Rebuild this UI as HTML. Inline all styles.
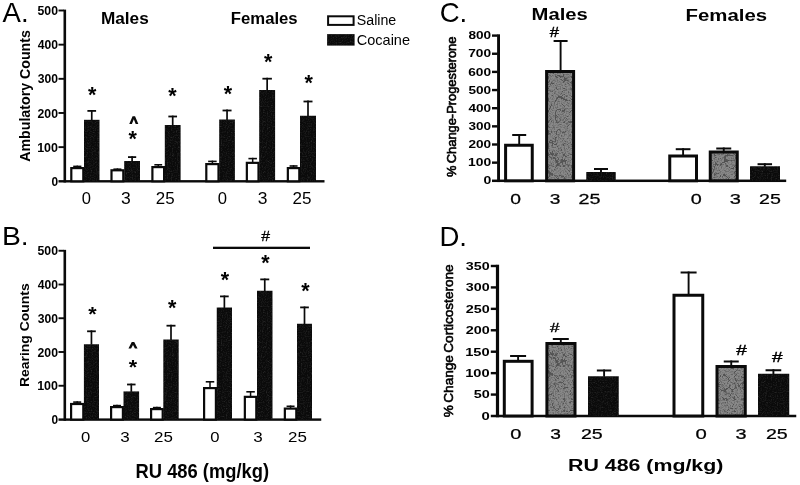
<!DOCTYPE html>
<html><head><meta charset="utf-8"><title>Figure</title>
<style>
html,body{margin:0;padding:0;background:#fff;}
body{width:800px;height:485px;overflow:hidden;font-family:"Liberation Sans",sans-serif;}
svg{display:block;will-change:transform;opacity:0.999}
svg text{font-family:"Liberation Sans",sans-serif;}
</style></head><body>
<svg width="800" height="485" viewBox="0 0 800 485">
<defs>
<filter id="nz" x="0" y="0" width="100%" height="100%" color-interpolation-filters="sRGB"><feTurbulence type="turbulence" baseFrequency="0.13 0.09" numOctaves="1" seed="11"/><feColorMatrix type="matrix" values="0 0 0 0 0.28  0 0 0 0 0.28  0 0 0 0 0.28  -20 0 0 0 0.75"/></filter><filter id="nz2" x="0" y="0" width="100%" height="100%"><feTurbulence type="fractalNoise" baseFrequency="0.7" numOctaves="2" seed="5"/><feColorMatrix type="matrix" values="0 0 0 0 0.1  0 0 0 0 0.1  0 0 0 0 0.1  2.4 0 0 0 -1.0"/></filter>
<filter id="nzb" x="0" y="0" width="100%" height="100%"><feTurbulence type="fractalNoise" baseFrequency="0.8" numOctaves="2" seed="3"/><feColorMatrix type="matrix" values="0 0 0 0 1  0 0 0 0 1  0 0 0 0 1  0.9 0.9 0 0 -0.85"/></filter>
<pattern id="gry" patternUnits="userSpaceOnUse" width="120" height="200"><rect width="120" height="200" fill="#898989"/><rect width="120" height="200" filter="url(#nz2)"/><rect width="120" height="200" filter="url(#nz)"/></pattern>
<pattern id="blk" patternUnits="userSpaceOnUse" width="120" height="200"><rect width="120" height="200" fill="#0a0a0a"/><rect width="120" height="200" filter="url(#nzb)" opacity="0.22"/></pattern>
</defs>
<rect width="800" height="485" fill="#fff"/>
<rect x='63.50' y='9.60' width='2.60' height='172.90' fill='#0a0a0a' />
<rect x='58.50' y='180.10' width='266.00' height='2.40' fill='#0a0a0a' />
<rect x='58.50' y='146.19' width='5.50' height='1.90' fill='#0a0a0a' />
<rect x='58.50' y='112.03' width='5.50' height='1.90' fill='#0a0a0a' />
<rect x='58.50' y='77.87' width='5.50' height='1.90' fill='#0a0a0a' />
<rect x='58.50' y='43.71' width='5.50' height='1.90' fill='#0a0a0a' />
<rect x='58.50' y='9.55' width='5.50' height='1.90' fill='#0a0a0a' />
<line x1='77.30' y1='165.60' x2='77.30' y2='167.50' stroke='#0a0a0a' stroke-width='1.5'/>
<line x1='73.20' y1='166.40' x2='81.40' y2='166.40' stroke='#0a0a0a' stroke-width='1.6'/>
<rect x='71.30' y='168.10' width='12.00' height='13.20' fill='#fff' stroke='#0a0a0a' stroke-width='2.2'/>
<line x1='91.75' y1='110.00' x2='91.75' y2='120.30' stroke='#0a0a0a' stroke-width='1.7'/>
<line x1='87.40' y1='110.90' x2='96.10' y2='110.90' stroke='#0a0a0a' stroke-width='1.8'/>
<rect x='84.00' y='119.80' width='15.50' height='61.50' fill='url(#blk)'/>
<line x1='117.40' y1='168.40' x2='117.40' y2='169.70' stroke='#0a0a0a' stroke-width='1.5'/>
<line x1='113.40' y1='169.20' x2='121.40' y2='169.20' stroke='#0a0a0a' stroke-width='1.6'/>
<rect x='111.50' y='170.30' width='11.80' height='11.00' fill='#fff' stroke='#0a0a0a' stroke-width='2.2'/>
<line x1='132.10' y1='156.20' x2='132.10' y2='161.50' stroke='#0a0a0a' stroke-width='1.7'/>
<line x1='128.00' y1='157.10' x2='136.20' y2='157.10' stroke='#0a0a0a' stroke-width='1.8'/>
<rect x='124.20' y='161.00' width='15.80' height='20.30' fill='url(#blk)'/>
<line x1='158.25' y1='164.00' x2='158.25' y2='166.50' stroke='#0a0a0a' stroke-width='1.5'/>
<line x1='154.35' y1='164.80' x2='162.15' y2='164.80' stroke='#0a0a0a' stroke-width='1.6'/>
<rect x='152.40' y='167.10' width='11.70' height='14.20' fill='#fff' stroke='#0a0a0a' stroke-width='2.2'/>
<line x1='172.70' y1='115.60' x2='172.70' y2='125.50' stroke='#0a0a0a' stroke-width='1.7'/>
<line x1='168.35' y1='116.50' x2='177.05' y2='116.50' stroke='#0a0a0a' stroke-width='1.8'/>
<rect x='164.80' y='125.00' width='15.80' height='56.30' fill='url(#blk)'/>
<line x1='212.40' y1='160.60' x2='212.40' y2='163.50' stroke='#0a0a0a' stroke-width='1.5'/>
<line x1='208.15' y1='161.40' x2='216.65' y2='161.40' stroke='#0a0a0a' stroke-width='1.6'/>
<rect x='206.30' y='164.10' width='12.20' height='17.20' fill='#fff' stroke='#0a0a0a' stroke-width='2.2'/>
<line x1='227.05' y1='109.60' x2='227.05' y2='120.00' stroke='#0a0a0a' stroke-width='1.7'/>
<line x1='222.55' y1='110.50' x2='231.55' y2='110.50' stroke='#0a0a0a' stroke-width='1.8'/>
<rect x='219.20' y='119.50' width='15.70' height='61.80' fill='url(#blk)'/>
<line x1='252.68' y1='157.80' x2='252.68' y2='162.25' stroke='#0a0a0a' stroke-width='1.5'/>
<line x1='248.43' y1='158.60' x2='256.93' y2='158.60' stroke='#0a0a0a' stroke-width='1.6'/>
<rect x='246.85' y='162.85' width='11.65' height='18.45' fill='#fff' stroke='#0a0a0a' stroke-width='2.2'/>
<line x1='267.15' y1='77.80' x2='267.15' y2='90.50' stroke='#0a0a0a' stroke-width='1.7'/>
<line x1='262.40' y1='78.70' x2='271.90' y2='78.70' stroke='#0a0a0a' stroke-width='1.8'/>
<rect x='259.20' y='90.00' width='15.90' height='91.30' fill='url(#blk)'/>
<line x1='293.57' y1='165.20' x2='293.57' y2='167.50' stroke='#0a0a0a' stroke-width='1.5'/>
<line x1='289.57' y1='166.00' x2='297.57' y2='166.00' stroke='#0a0a0a' stroke-width='1.6'/>
<rect x='287.85' y='168.10' width='11.45' height='13.20' fill='#fff' stroke='#0a0a0a' stroke-width='2.2'/>
<line x1='308.00' y1='100.60' x2='308.00' y2='116.25' stroke='#0a0a0a' stroke-width='1.7'/>
<line x1='303.50' y1='101.50' x2='312.50' y2='101.50' stroke='#0a0a0a' stroke-width='1.8'/>
<rect x='300.00' y='115.75' width='16.00' height='65.55' fill='url(#blk)'/>
<rect x='328.1' y='16.3' width='25.5' height='8.6' fill='#fff' stroke='#0a0a0a' stroke-width='2'/>
<rect x='327.10' y='34.10' width='27.50' height='11.50' fill='url(#blk)' />
<polygon points='129.25,123.90 132.55,116.20 135.05,116.20 138.35,123.90 135.70,123.90 133.80,119.20 131.90,123.90' fill='#0a0a0a'/>
<rect x='63.50' y='249.85' width='2.60' height='170.95' fill='#0a0a0a' />
<rect x='58.50' y='418.40' width='262.75' height='2.40' fill='#0a0a0a' />
<rect x='58.50' y='384.80' width='5.50' height='1.90' fill='#0a0a0a' />
<rect x='58.50' y='351.05' width='5.50' height='1.90' fill='#0a0a0a' />
<rect x='58.50' y='317.30' width='5.50' height='1.90' fill='#0a0a0a' />
<rect x='58.50' y='283.55' width='5.50' height='1.90' fill='#0a0a0a' />
<rect x='58.50' y='249.80' width='5.50' height='1.90' fill='#0a0a0a' />
<line x1='77.20' y1='401.30' x2='77.20' y2='403.40' stroke='#0a0a0a' stroke-width='1.5'/>
<line x1='73.20' y1='402.10' x2='81.20' y2='402.10' stroke='#0a0a0a' stroke-width='1.6'/>
<rect x='71.10' y='404.00' width='12.20' height='15.60' fill='#fff' stroke='#0a0a0a' stroke-width='2.2'/>
<line x1='91.45' y1='330.40' x2='91.45' y2='344.75' stroke='#0a0a0a' stroke-width='1.7'/>
<line x1='87.10' y1='331.30' x2='95.80' y2='331.30' stroke='#0a0a0a' stroke-width='1.8'/>
<rect x='83.90' y='344.25' width='15.10' height='75.35' fill='url(#blk)'/>
<line x1='117.00' y1='404.80' x2='117.00' y2='406.50' stroke='#0a0a0a' stroke-width='1.5'/>
<line x1='113.00' y1='405.60' x2='121.00' y2='405.60' stroke='#0a0a0a' stroke-width='1.6'/>
<rect x='111.10' y='407.10' width='11.80' height='12.50' fill='#fff' stroke='#0a0a0a' stroke-width='2.2'/>
<line x1='131.30' y1='383.60' x2='131.30' y2='391.90' stroke='#0a0a0a' stroke-width='1.7'/>
<line x1='127.05' y1='384.50' x2='135.55' y2='384.50' stroke='#0a0a0a' stroke-width='1.8'/>
<rect x='123.50' y='391.40' width='15.60' height='28.20' fill='url(#blk)'/>
<line x1='156.90' y1='406.80' x2='156.90' y2='408.50' stroke='#0a0a0a' stroke-width='1.5'/>
<line x1='152.90' y1='407.60' x2='160.90' y2='407.60' stroke='#0a0a0a' stroke-width='1.6'/>
<rect x='151.10' y='409.10' width='11.60' height='10.50' fill='#fff' stroke='#0a0a0a' stroke-width='2.2'/>
<line x1='171.00' y1='324.80' x2='171.00' y2='340.00' stroke='#0a0a0a' stroke-width='1.7'/>
<line x1='166.50' y1='325.70' x2='175.50' y2='325.70' stroke='#0a0a0a' stroke-width='1.8'/>
<rect x='163.30' y='339.50' width='15.40' height='80.10' fill='url(#blk)'/>
<line x1='210.00' y1='381.00' x2='210.00' y2='387.50' stroke='#0a0a0a' stroke-width='1.5'/>
<line x1='205.75' y1='381.80' x2='214.25' y2='381.80' stroke='#0a0a0a' stroke-width='1.6'/>
<rect x='204.10' y='388.10' width='11.80' height='31.50' fill='#fff' stroke='#0a0a0a' stroke-width='2.2'/>
<line x1='224.38' y1='295.50' x2='224.38' y2='308.00' stroke='#0a0a0a' stroke-width='1.7'/>
<line x1='220.03' y1='296.40' x2='228.72' y2='296.40' stroke='#0a0a0a' stroke-width='1.8'/>
<rect x='216.75' y='307.50' width='15.25' height='112.10' fill='url(#blk)'/>
<line x1='250.57' y1='391.00' x2='250.57' y2='396.25' stroke='#0a0a0a' stroke-width='1.5'/>
<line x1='246.32' y1='391.80' x2='254.82' y2='391.80' stroke='#0a0a0a' stroke-width='1.6'/>
<rect x='244.85' y='396.85' width='11.45' height='22.75' fill='#fff' stroke='#0a0a0a' stroke-width='2.2'/>
<line x1='264.75' y1='278.50' x2='264.75' y2='291.25' stroke='#0a0a0a' stroke-width='1.7'/>
<line x1='260.25' y1='279.40' x2='269.25' y2='279.40' stroke='#0a0a0a' stroke-width='1.8'/>
<rect x='257.00' y='290.75' width='15.50' height='128.85' fill='url(#blk)'/>
<line x1='290.57' y1='405.50' x2='290.57' y2='408.00' stroke='#0a0a0a' stroke-width='1.5'/>
<line x1='286.57' y1='406.30' x2='294.57' y2='406.30' stroke='#0a0a0a' stroke-width='1.6'/>
<rect x='284.85' y='408.60' width='11.45' height='11.00' fill='#fff' stroke='#0a0a0a' stroke-width='2.2'/>
<line x1='304.50' y1='306.50' x2='304.50' y2='324.25' stroke='#0a0a0a' stroke-width='1.7'/>
<line x1='300.15' y1='307.40' x2='308.85' y2='307.40' stroke='#0a0a0a' stroke-width='1.8'/>
<rect x='297.00' y='323.75' width='15.00' height='95.85' fill='url(#blk)'/>
<rect x='213.00' y='246.70' width='97.00' height='2.30' fill='#0a0a0a' />
<polygon points='128.45,348.40 131.75,342.10 134.25,342.10 137.55,348.40 134.90,348.40 133.00,345.10 131.10,348.40' fill='#0a0a0a'/>
<rect x='497.10' y='34.30' width='2.90' height='147.75' fill='#0a0a0a' />
<rect x='492.00' y='179.55' width='294.20' height='2.50' fill='#0a0a0a' />
<rect x='492.00' y='161.45' width='5.60' height='2.40' fill='#0a0a0a' />
<rect x='492.00' y='143.30' width='5.60' height='2.40' fill='#0a0a0a' />
<rect x='492.00' y='125.15' width='5.60' height='2.40' fill='#0a0a0a' />
<rect x='492.00' y='107.00' width='5.60' height='2.40' fill='#0a0a0a' />
<rect x='492.00' y='88.85' width='5.60' height='2.40' fill='#0a0a0a' />
<rect x='492.00' y='70.70' width='5.60' height='2.40' fill='#0a0a0a' />
<rect x='492.00' y='52.55' width='5.60' height='2.40' fill='#0a0a0a' />
<rect x='492.00' y='34.40' width='5.60' height='2.40' fill='#0a0a0a' />
<line x1='519.20' y1='134.00' x2='519.20' y2='144.25' stroke='#0a0a0a' stroke-width='1.9'/>
<line x1='512.20' y1='135.00' x2='526.20' y2='135.00' stroke='#0a0a0a' stroke-width='2.0'/>
<rect x='505.60' y='145.25' width='26.65' height='35.55' fill='#fff' stroke='#0a0a0a' stroke-width='3.0'/>
<line x1='560.60' y1='40.00' x2='560.60' y2='70.50' stroke='#0a0a0a' stroke-width='1.9'/>
<line x1='553.60' y1='41.00' x2='567.60' y2='41.00' stroke='#0a0a0a' stroke-width='2.0'/>
<rect x='546.60' y='71.50' width='27.00' height='109.30' fill='url(#gry)' stroke='#0a0a0a' stroke-width='3.0'/>
<line x1='601.00' y1='168.00' x2='601.00' y2='172.50' stroke='#0a0a0a' stroke-width='1.9'/>
<line x1='594.00' y1='169.00' x2='608.00' y2='169.00' stroke='#0a0a0a' stroke-width='2.0'/>
<rect x='586.25' y='172.00' width='29.50' height='8.80' fill='url(#blk)'/>
<line x1='683.10' y1='148.20' x2='683.10' y2='155.00' stroke='#0a0a0a' stroke-width='1.9'/>
<line x1='675.75' y1='149.20' x2='690.45' y2='149.20' stroke='#0a0a0a' stroke-width='2.0'/>
<rect x='669.75' y='156.00' width='26.75' height='24.80' fill='#fff' stroke='#0a0a0a' stroke-width='3.0'/>
<line x1='723.75' y1='147.50' x2='723.75' y2='151.00' stroke='#0a0a0a' stroke-width='1.9'/>
<line x1='716.25' y1='148.50' x2='731.25' y2='148.50' stroke='#0a0a0a' stroke-width='2.0'/>
<rect x='710.25' y='152.00' width='27.00' height='28.80' fill='url(#gry)' stroke='#0a0a0a' stroke-width='3.0'/>
<line x1='764.80' y1='163.20' x2='764.80' y2='166.75' stroke='#0a0a0a' stroke-width='1.9'/>
<line x1='757.55' y1='164.20' x2='772.05' y2='164.20' stroke='#0a0a0a' stroke-width='2.0'/>
<rect x='750.00' y='166.25' width='30.00' height='14.55' fill='url(#blk)'/>
<rect x='495.90' y='264.70' width='3.20' height='152.55' fill='#0a0a0a' />
<rect x='490.80' y='414.75' width='305.45' height='2.50' fill='#0a0a0a' />
<rect x='490.80' y='393.37' width='5.60' height='2.40' fill='#0a0a0a' />
<rect x='490.80' y='371.94' width='5.60' height='2.40' fill='#0a0a0a' />
<rect x='490.80' y='350.51' width='5.60' height='2.40' fill='#0a0a0a' />
<rect x='490.80' y='329.08' width='5.60' height='2.40' fill='#0a0a0a' />
<rect x='490.80' y='307.65' width='5.60' height='2.40' fill='#0a0a0a' />
<rect x='490.80' y='286.22' width='5.60' height='2.40' fill='#0a0a0a' />
<rect x='490.80' y='264.79' width='5.60' height='2.40' fill='#0a0a0a' />
<line x1='518.10' y1='355.00' x2='518.10' y2='360.50' stroke='#0a0a0a' stroke-width='1.9'/>
<line x1='510.10' y1='356.00' x2='526.10' y2='356.00' stroke='#0a0a0a' stroke-width='2.0'/>
<rect x='504.30' y='361.30' width='27.80' height='54.70' fill='#fff' stroke='#0a0a0a' stroke-width='3.0'/>
<line x1='560.80' y1='338.00' x2='560.80' y2='342.50' stroke='#0a0a0a' stroke-width='1.9'/>
<line x1='552.80' y1='339.00' x2='568.80' y2='339.00' stroke='#0a0a0a' stroke-width='2.0'/>
<rect x='546.90' y='343.50' width='28.10' height='72.50' fill='url(#gry)' stroke='#0a0a0a' stroke-width='3.0'/>
<line x1='604.10' y1='369.50' x2='604.10' y2='376.75' stroke='#0a0a0a' stroke-width='1.9'/>
<line x1='596.85' y1='370.50' x2='611.35' y2='370.50' stroke='#0a0a0a' stroke-width='2.0'/>
<rect x='588.00' y='376.25' width='30.75' height='39.75' fill='url(#blk)'/>
<line x1='688.60' y1='271.50' x2='688.60' y2='294.25' stroke='#0a0a0a' stroke-width='1.9'/>
<line x1='680.60' y1='272.50' x2='696.60' y2='272.50' stroke='#0a0a0a' stroke-width='2.0'/>
<rect x='674.00' y='295.25' width='28.75' height='120.75' fill='#fff' stroke='#0a0a0a' stroke-width='3.0'/>
<line x1='731.25' y1='360.50' x2='731.25' y2='365.50' stroke='#0a0a0a' stroke-width='1.9'/>
<line x1='723.75' y1='361.50' x2='738.75' y2='361.50' stroke='#0a0a0a' stroke-width='2.0'/>
<rect x='717.00' y='366.50' width='28.25' height='49.50' fill='url(#gry)' stroke='#0a0a0a' stroke-width='3.0'/>
<line x1='773.40' y1='369.25' x2='773.40' y2='374.25' stroke='#0a0a0a' stroke-width='1.9'/>
<line x1='765.55' y1='370.25' x2='781.25' y2='370.25' stroke='#0a0a0a' stroke-width='2.0'/>
<rect x='758.00' y='373.75' width='31.25' height='42.25' fill='url(#blk)'/>
<text transform='translate(51.42,185.83) scale(0.967,1)' font-weight='bold' font-size='12.32' fill='#000'>0</text>
<text transform='translate(37.15,151.67) scale(1.013,1)' font-weight='bold' font-size='12.32' fill='#000'>100</text>
<text transform='translate(37.53,117.51) scale(0.994,1)' font-weight='bold' font-size='12.32' fill='#000'>200</text>
<text transform='translate(37.66,83.35) scale(0.988,1)' font-weight='bold' font-size='12.32' fill='#000'>300</text>
<text transform='translate(37.66,49.19) scale(0.988,1)' font-weight='bold' font-size='12.32' fill='#000'>400</text>
<text transform='translate(37.53,15.03) scale(0.994,1)' font-weight='bold' font-size='12.32' fill='#000'>500</text>
<text transform='translate(2.60,21.80) scale(1.000,1)' font-weight='normal' font-size='27.54' fill='#000'>A.</text>
<text transform='translate(100.89,23.64) scale(1.045,1)' font-weight='bold' font-size='16.49' fill='#000'>Males</text>
<text transform='translate(230.83,24.04) scale(1.030,1)' font-weight='bold' font-size='16.22' fill='#000'>Females</text>
<text transform='translate(356.79,25.46) scale(0.992,1)' font-weight='normal' font-size='14.32' fill='#000'>Saline</text>
<text transform='translate(356.77,44.86) scale(1.015,1)' font-weight='normal' font-size='14.32' fill='#000'>Cocaine</text>
<text transform='translate(81.64,204.14) scale(1.014,1)' font-weight='normal' font-size='16.34' fill='#000'>0</text>
<text transform='translate(121.05,204.14) scale(1.074,1)' font-weight='normal' font-size='16.34' fill='#000'>3</text>
<text transform='translate(155.85,204.14) scale(1.038,1)' font-weight='normal' font-size='16.34' fill='#000'>25</text>
<text transform='translate(217.83,204.14) scale(1.020,1)' font-weight='normal' font-size='16.34' fill='#000'>0</text>
<text transform='translate(257.70,204.14) scale(1.068,1)' font-weight='normal' font-size='16.34' fill='#000'>3</text>
<text transform='translate(292.45,204.14) scale(1.044,1)' font-weight='normal' font-size='16.34' fill='#000'>25</text>
<text transform='translate(30.17,161.83) rotate(-90) scale(0.954,1)' font-weight='bold' font-size='14.89' fill='#000'>Ambulatory Counts</text>
<text transform='translate(87.90,101.72) scale(0.996,1)' font-weight='bold' font-size='21.62' fill='#000'>*</text>
<text transform='translate(128.40,145.52) scale(0.996,1)' font-weight='bold' font-size='21.62' fill='#000'>*</text>
<text transform='translate(168.30,103.42) scale(0.996,1)' font-weight='bold' font-size='21.62' fill='#000'>*</text>
<text transform='translate(223.70,101.02) scale(0.996,1)' font-weight='bold' font-size='21.62' fill='#000'>*</text>
<text transform='translate(264.00,68.92) scale(0.996,1)' font-weight='bold' font-size='21.62' fill='#000'>*</text>
<text transform='translate(304.40,90.12) scale(0.996,1)' font-weight='bold' font-size='21.62' fill='#000'>*</text>
<text transform='translate(51.42,424.03) scale(0.967,1)' font-weight='bold' font-size='12.32' fill='#000'>0</text>
<text transform='translate(37.15,390.28) scale(1.013,1)' font-weight='bold' font-size='12.32' fill='#000'>100</text>
<text transform='translate(37.53,356.53) scale(0.994,1)' font-weight='bold' font-size='12.32' fill='#000'>200</text>
<text transform='translate(37.66,322.78) scale(0.988,1)' font-weight='bold' font-size='12.32' fill='#000'>300</text>
<text transform='translate(37.66,289.03) scale(0.988,1)' font-weight='bold' font-size='12.32' fill='#000'>400</text>
<text transform='translate(37.53,255.28) scale(0.994,1)' font-weight='bold' font-size='12.32' fill='#000'>500</text>
<text transform='translate(1.94,245.00) scale(1.062,1)' font-weight='normal' font-size='26.67' fill='#000'>B.</text>
<text transform='translate(80.93,442.35) scale(1.076,1)' font-weight='normal' font-size='15.49' fill='#000'>0</text>
<text transform='translate(120.32,442.35) scale(1.099,1)' font-weight='normal' font-size='15.49' fill='#000'>3</text>
<text transform='translate(154.10,442.35) scale(1.095,1)' font-weight='normal' font-size='15.49' fill='#000'>25</text>
<text transform='translate(210.33,442.35) scale(1.076,1)' font-weight='normal' font-size='15.49' fill='#000'>0</text>
<text transform='translate(253.32,442.35) scale(1.099,1)' font-weight='normal' font-size='15.49' fill='#000'>3</text>
<text transform='translate(288.00,442.35) scale(1.095,1)' font-weight='normal' font-size='15.49' fill='#000'>25</text>
<text transform='translate(28.76,386.97) rotate(-90) scale(1.109,1)' font-weight='bold' font-size='12.55' fill='#000'>Rearing Counts</text>
<text transform='translate(135.52,477.98) scale(0.913,1)' font-weight='bold' font-size='20.11' fill='#000'>RU 486 (mg/kg)</text>
<text transform='translate(261.30,241.10) scale(1.065,1)' font-weight='normal' font-size='14.85' fill='#000' stroke='#000' stroke-width='0.3'>#</text>
<text transform='translate(88.30,321.06) scale(1.035,1)' font-weight='bold' font-size='20.81' fill='#000'>*</text>
<text transform='translate(128.80,374.49) scale(1.063,1)' font-weight='bold' font-size='20.27' fill='#000'>*</text>
<text transform='translate(167.90,314.62) scale(0.996,1)' font-weight='bold' font-size='21.62' fill='#000'>*</text>
<text transform='translate(220.80,287.12) scale(0.996,1)' font-weight='bold' font-size='21.62' fill='#000'>*</text>
<text transform='translate(261.30,269.62) scale(0.996,1)' font-weight='bold' font-size='21.62' fill='#000'>*</text>
<text transform='translate(301.30,298.37) scale(0.996,1)' font-weight='bold' font-size='21.62' fill='#000'>*</text>
<text transform='translate(483.44,184.45) scale(1.347,1)' font-weight='bold' font-size='10.42' fill='#000'>0</text>
<text transform='translate(467.97,166.30) scale(1.332,1)' font-weight='bold' font-size='10.42' fill='#000'>100</text>
<text transform='translate(468.39,148.15) scale(1.307,1)' font-weight='bold' font-size='10.42' fill='#000'>200</text>
<text transform='translate(468.53,130.00) scale(1.299,1)' font-weight='bold' font-size='10.42' fill='#000'>300</text>
<text transform='translate(468.53,111.85) scale(1.299,1)' font-weight='bold' font-size='10.42' fill='#000'>400</text>
<text transform='translate(468.39,93.70) scale(1.307,1)' font-weight='bold' font-size='10.42' fill='#000'>500</text>
<text transform='translate(468.25,75.55) scale(1.315,1)' font-weight='bold' font-size='10.42' fill='#000'>600</text>
<text transform='translate(468.25,57.40) scale(1.315,1)' font-weight='bold' font-size='10.42' fill='#000'>700</text>
<text transform='translate(468.39,39.25) scale(1.307,1)' font-weight='bold' font-size='10.42' fill='#000'>800</text>
<text transform='translate(439.72,22.42) scale(0.983,1)' font-weight='normal' font-size='28.03' fill='#000'>C.</text>
<text transform='translate(531.58,20.34) scale(1.258,1)' font-weight='bold' font-size='16.08' fill='#000'>Males</text>
<text transform='translate(685.47,20.54) scale(1.268,1)' font-weight='bold' font-size='16.08' fill='#000'>Females</text>
<text transform='translate(549.80,36.80) scale(1.161,1)' font-weight='normal' font-size='14.41' fill='#000' stroke='#000' stroke-width='0.4'>#</text>
<text transform='translate(510.23,204.45) scale(1.291,1)' font-weight='normal' font-size='14.93' fill='#000' stroke='#000' stroke-width='0.25'>0</text>
<text transform='translate(549.63,204.45) scale(1.283,1)' font-weight='normal' font-size='14.93' fill='#000' stroke='#000' stroke-width='0.25'>3</text>
<text transform='translate(578.61,204.45) scale(1.326,1)' font-weight='normal' font-size='14.93' fill='#000' stroke='#000' stroke-width='0.25'>25</text>
<text transform='translate(690.71,204.45) scale(1.326,1)' font-weight='normal' font-size='14.93' fill='#000' stroke='#000' stroke-width='0.25'>0</text>
<text transform='translate(729.80,204.45) scale(1.340,1)' font-weight='normal' font-size='14.93' fill='#000' stroke='#000' stroke-width='0.25'>3</text>
<text transform='translate(759.02,204.45) scale(1.313,1)' font-weight='normal' font-size='14.93' fill='#000' stroke='#000' stroke-width='0.25'>25</text>
<text transform='translate(456.30,176.92) rotate(-90) scale(1.001,1)' font-weight='normal' font-size='12.87' fill='#000' stroke='#000' stroke-width='0.6' word-spacing='-0.1em'>% Change-Progesterone</text>
<text transform='translate(481.50,419.90) scale(1.429,1)' font-weight='bold' font-size='10.42' fill='#000'>0</text>
<text transform='translate(473.67,398.47) scale(1.384,1)' font-weight='bold' font-size='10.42' fill='#000'>50</text>
<text transform='translate(465.22,377.04) scale(1.406,1)' font-weight='bold' font-size='10.42' fill='#000'>100</text>
<text transform='translate(465.22,355.61) scale(1.406,1)' font-weight='bold' font-size='10.42' fill='#000'>150</text>
<text transform='translate(465.67,334.18) scale(1.379,1)' font-weight='bold' font-size='10.42' fill='#000'>200</text>
<text transform='translate(465.67,312.75) scale(1.379,1)' font-weight='bold' font-size='10.42' fill='#000'>250</text>
<text transform='translate(465.81,291.32) scale(1.371,1)' font-weight='bold' font-size='10.42' fill='#000'>300</text>
<text transform='translate(465.81,269.89) scale(1.371,1)' font-weight='bold' font-size='10.42' fill='#000'>350</text>
<text transform='translate(439.39,245.70) scale(1.018,1)' font-weight='normal' font-size='27.10' fill='#000'>D.</text>
<text transform='translate(510.20,438.95) scale(1.340,1)' font-weight='normal' font-size='14.93' fill='#000' stroke='#000' stroke-width='0.25'>0</text>
<text transform='translate(550.23,438.95) scale(1.283,1)' font-weight='normal' font-size='14.93' fill='#000' stroke='#000' stroke-width='0.25'>3</text>
<text transform='translate(580.92,438.95) scale(1.313,1)' font-weight='normal' font-size='14.93' fill='#000' stroke='#000' stroke-width='0.25'>25</text>
<text transform='translate(695.44,438.95) scale(1.361,1)' font-weight='normal' font-size='14.93' fill='#000' stroke='#000' stroke-width='0.25'>0</text>
<text transform='translate(735.45,438.95) scale(1.332,1)' font-weight='normal' font-size='14.93' fill='#000' stroke='#000' stroke-width='0.25'>3</text>
<text transform='translate(765.92,438.95) scale(1.313,1)' font-weight='normal' font-size='14.93' fill='#000' stroke='#000' stroke-width='0.25'>25</text>
<text transform='translate(550.00,332.00) scale(1.263,1)' font-weight='normal' font-size='13.53' fill='#000' stroke='#000' stroke-width='0.4'>#</text>
<text transform='translate(736.25,355.20) scale(1.311,1)' font-weight='normal' font-size='14.56' fill='#000' stroke='#000' stroke-width='0.4'>#</text>
<text transform='translate(772.00,362.20) scale(1.311,1)' font-weight='normal' font-size='14.56' fill='#000' stroke='#000' stroke-width='0.4'>#</text>
<text transform='translate(568.00,470.89) scale(1.357,1)' font-weight='bold' font-size='15.74' fill='#000'>RU 486 (mg/kg)</text>
<text transform='translate(452.91,417.24) rotate(-90) scale(1.023,1)' font-weight='normal' font-size='13.30' fill='#000' stroke='#000' stroke-width='0.6' word-spacing='-0.1em'>% Change Corticosterone</text>
</svg>
</body></html>
